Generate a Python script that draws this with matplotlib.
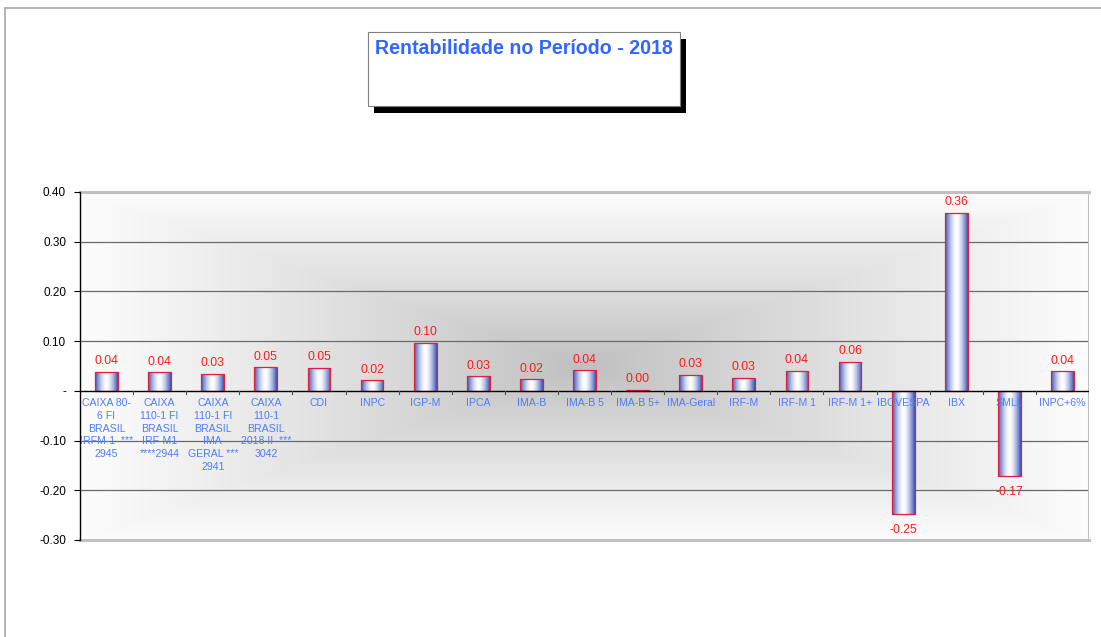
import numpy as np
import matplotlib
matplotlib.use('Agg')
import matplotlib.pyplot as plt
import matplotlib.patches as mpatches
from matplotlib.lines import Line2D

plt.rcParams['font.family'] = ['Liberation Sans', 'DejaVu Sans']

# ---------------------------------------------------------------------------
# Data
# ---------------------------------------------------------------------------
categories = [
    'CAIXA 80-\n6 FI\nBRASIL\nIRFM-1  ***\n2945',
    'CAIXA\n110-1 FI\nBRASIL\nIRF-M1\n****2944',
    'CAIXA\n110-1 FI\nBRASIL\nIMA\nGERAL ***\n2941',
    'CAIXA\n110-1\nBRASIL\n2018 II  ***\n3042',
    'CDI', 'INPC', 'IGP-M', 'IPCA', 'IMA-B', 'IMA-B 5', 'IMA-B 5+',
    'IMA-Geral', 'IRF-M', 'IRF-M 1', 'IRF-M 1+', 'IBOVESPA', 'IBX',
    'SMLL', 'INPC+6%',
]
values = [0.0376, 0.037, 0.0336, 0.047, 0.046, 0.021, 0.096, 0.029, 0.023,
          0.041, 0.001, 0.0316, 0.026, 0.0396, 0.0577, -0.248, 0.358,
          -0.171, 0.039]
yticks = [-0.30, -0.20, -0.10, 0.0, 0.10, 0.20, 0.30, 0.40]
title = 'Rentabilidade no Período - 2018'

W, H = 1101, 637
fig = plt.figure(figsize=(W / 100, H / 100), dpi=100)

# outer chart border (left and top only visible)
fig.add_artist(Line2D([5 / W, 5 / W], [0, 1 - 8 / H], transform=fig.transFigure,
                      color='#a8a8a8', lw=1.2))
fig.add_artist(Line2D([5 / W, 1], [1 - 8 / H, 1 - 8 / H], transform=fig.transFigure,
                      color='#a8a8a8', lw=1.2))

# title box with black shadow
bx0, by0, bx1, by1 = 368, 32, 680, 106
fig.add_artist(mpatches.Rectangle(((bx0 + 6) / W, 1 - (by1 + 7) / H),
                                  (bx1 - bx0) / W, (by1 - by0) / H,
                                  transform=fig.transFigure, facecolor='black',
                                  edgecolor='none', zorder=1))
fig.add_artist(mpatches.Rectangle((bx0 / W, 1 - by1 / H),
                                  (bx1 - bx0) / W, (by1 - by0) / H,
                                  transform=fig.transFigure, facecolor='white',
                                  edgecolor='#808080', lw=0.8, zorder=2))
fig.text(375 / W, 1 - 48.5 / H, title, color='#3366ff', fontsize=14.1,
         fontweight='bold', ha='left', va='center', zorder=3)

# ---------------------------------------------------------------------------
# Plot area
# ---------------------------------------------------------------------------
left, right, top, bottom = 80, 1089, 192, 540
ax = fig.add_axes([left / W, 1 - bottom / H, (right - left) / W, (bottom - top) / H])
x = np.arange(len(categories))
ax.set_xlim(-0.5, len(categories) - 0.5)
ax.set_ylim(-0.30, 0.40)

# rectangular "from centre" gradient background
gx = np.linspace(-1, 1, 400)
gy = np.linspace(-1, 1, 200)
GX, GY = np.meshgrid(gx, gy)
t = np.clip(np.maximum(np.abs(GX), np.abs(GY)), 0, 1)
shade = 0.75 + (0.99 - 0.75) * t ** 0.9
bg = np.dstack([shade, shade, shade])
ax.imshow(bg, extent=[-0.5, len(categories) - 0.5, -0.30, 0.40],
          aspect='auto', zorder=0, interpolation='bilinear')

for yv in yticks[1:-1]:
    if yv != 0:
        ax.axhline(yv, color='#6a6a6a', lw=0.9, zorder=1)
for yv in (yticks[0], yticks[-1]):
    ax.axhline(yv, color='#c0c0c0', lw=2.2, zorder=1, clip_on=False)
ax.axvline(len(categories) - 0.5, color='#c0c0c0', lw=2.2, zorder=1)

# bars with horizontal blue-white-blue gradient
bar_w = 0.43
bars = ax.bar(x, values, width=bar_w, facecolor='none', edgecolor='#e0203a',
              lw=0.9, zorder=4)
grad = np.linspace(-1, 1, 64)
k = np.abs(grad) ** 1.6
c_edge = np.array([0.22, 0.33, 0.72])
c_mid = np.array([1.0, 1.0, 1.0])
cols = c_mid[None, :] * (1 - k[:, None]) + c_edge[None, :] * k[:, None]
gimg = cols[None, :, :]
for b in bars:
    bx, by = b.get_x(), b.get_y()
    bw, bh = b.get_width(), b.get_height()
    y0, y1 = min(by, by + bh), max(by, by + bh)
    if y1 - y0 <= 0:
        continue
    im = ax.imshow(gimg, extent=[bx, bx + bw, y0, y1], aspect='auto',
                   zorder=3, interpolation='bilinear')
    im.set_clip_path(b)

# zero line with ticks between categories
ax.axhline(0, color='black', lw=1.0, zorder=5)
for xb in np.arange(-0.5, len(categories), 1.0):
    ax.plot([xb, xb], [0, -0.006], color='#505050', lw=0.8, zorder=5)

# value labels
for xi, v in zip(x, values):
    if v >= 0:
        ax.annotate(f'{v:.2f}', (xi, v), xytext=(0, 3.5), textcoords='offset points',
                    ha='center', va='bottom', color='#ff1a1a', fontsize=8.8, zorder=6)
    else:
        ax.annotate(f'{v:.2f}', (xi, v), xytext=(0, -7), textcoords='offset points',
                    ha='center', va='top', color='#ff1a1a', fontsize=8.8, zorder=6)

# category labels just below the zero line
for xi, lab in zip(x, categories):
    ax.annotate(lab, (xi, 0), xytext=(0, -5), textcoords='offset points',
                ha='center', va='top', color='#4f7cff', fontsize=7.6,
                linespacing=1.36, zorder=6)

ax.set_xticks([])
ax.set_yticks(yticks)
ax.set_yticklabels(['-' if yv == 0 else f'{yv:.2f}' for yv in yticks], fontsize=8.5)
ax.tick_params(axis='y', length=4, width=0.8, pad=6)
for side in ('top', 'right', 'bottom'):
    ax.spines[side].set_visible(False)
ax.spines['left'].set_linewidth(1.0)
ax.spines['left'].set_zorder(5)

fig.savefig('out.png', dpi=100)
